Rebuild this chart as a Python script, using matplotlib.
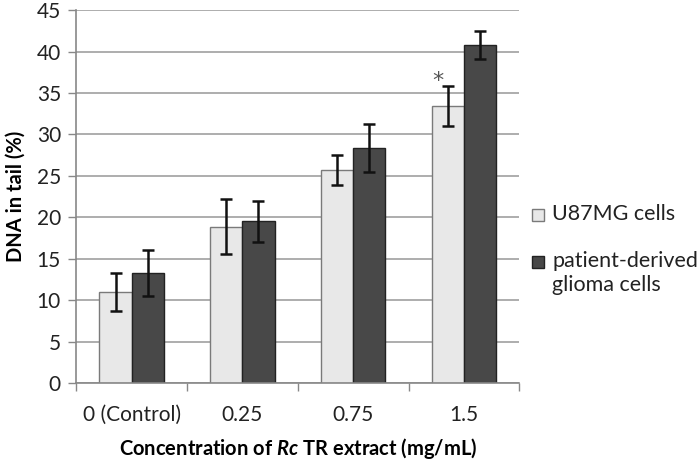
import matplotlib.pyplot as plt
from matplotlib.patches import Rectangle
import numpy as np

plt.rcParams['font.family'] = ['Lato', 'DejaVu Sans']
plt.rcParams['mathtext.fontset'] = 'custom'
plt.rcParams['mathtext.bfit'] = 'Lato:italic:bold'
plt.rcParams['mathtext.rm'] = 'Lato'

categories = ['0 (Control)', '0.25', '0.75', '1.5']
u87 = [11.0, 18.85, 25.7, 33.4]
u87_err = [2.25, 3.3, 1.8, 2.4]
glioma = [13.3, 19.5, 28.4, 40.8]
glioma_err = [2.8, 2.5, 2.9, 1.7]
series_names = ['U87MG cells', 'patient-derived\nglioma cells']
star_group = 3
star_y = 36.4

light = '#e8e8e8'
dark = '#484848'

fig = plt.figure(figsize=(6.99, 4.62), dpi=100)
ax = fig.add_axes([0.109, 0.171, 0.634, 0.807])

x = np.arange(len(categories))
w = 0.29
ax.bar(x - w/2, u87, w, color=light, edgecolor='#7a7a7a', linewidth=1, zorder=2)
ax.bar(x + w/2, glioma, w, color=dark, edgecolor='#222222', linewidth=1, zorder=2)
ax.errorbar(x - w/2, u87, yerr=u87_err, fmt='none', ecolor='#111111',
            elinewidth=1.8, capsize=4, capthick=1.8, zorder=3)
ax.errorbar(x + w/2, glioma, yerr=glioma_err, fmt='none', ecolor='#111111',
            elinewidth=1.8, capsize=4, capthick=1.8, zorder=3)
ax.text(x[star_group] - w/2 - 0.09, star_y, '*', ha='center', va='center',
        fontsize=16, color='#555555', family='DejaVu Sans')

ax.set_xlim(-0.5, len(categories) - 0.5)
ax.set_ylim(0, 45)
ax.set_yticks(range(0, 46, 5))
ax.set_xticks(x)
ax.set_xticklabels(categories)
ax.set_xticks(np.arange(-0.5, len(categories), 1), minor=True)
ax.tick_params(axis='x', which='major', length=0, pad=16, labelsize=15, colors='#222222')
ax.tick_params(axis='x', which='minor', length=6, color='#888888', width=1)
ax.tick_params(axis='y', length=6, color='#888888', width=1, labelsize=15,
               labelcolor='#222222', pad=5)
ax.grid(axis='y', color='#a0a0a0', linewidth=1.2, zorder=0)
ax.set_axisbelow(True)
for s in ['top', 'right']:
    ax.spines[s].set_visible(False)
for s in ['left', 'bottom']:
    ax.spines[s].set_color('#888888')
    ax.spines[s].set_linewidth(1.2)

ax.set_ylabel('DNA in tail (%)', fontsize=14.5, fontweight='bold', labelpad=8)
ax.set_xlabel('Concentration of $\\mathbfit{Rc}$ TR extract (mg/mL)', fontsize=14.5,
              fontweight='bold', labelpad=8)

# legend drawn by hand so the square sits beside the first text line
W, H = fig.get_size_inches() * fig.dpi
entries = [(light, '#7a7a7a', 215), (dark, '#222222', 262)]
for (fc, ec, yc), name in zip(entries, series_names):
    fig.add_artist(Rectangle((532 / W, 1 - (yc + 6) / H), 12 / W, 12 / H,
                             facecolor=fc, edgecolor=ec, linewidth=1,
                             transform=fig.transFigure))
    fig.text(552 / W, 1 - (yc - 11) / H, name, ha='left', va='top',
             fontsize=15.5, color='#222222', linespacing=1.25)

fig.savefig('out.png', dpi=100)
